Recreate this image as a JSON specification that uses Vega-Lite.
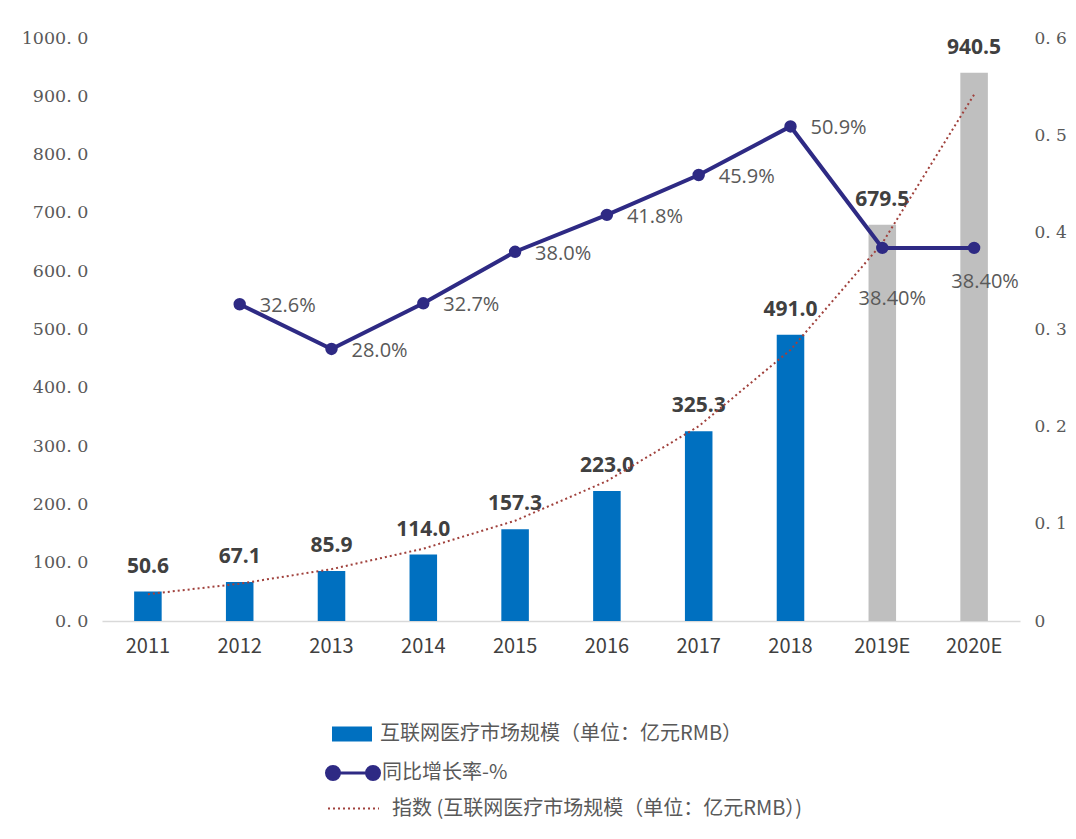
{
  "$schema": "https://vega.github.io/schema/vega-lite/v6.json",
  "width": 918,
  "height": 583,
  "autosize": {"type": "none"},
  "padding": {"left": 102, "top": 38, "right": 56, "bottom": 218},
  "background": "white",
  "config": {
    "view": {"stroke": null},
    "legend": {"labelFontSize": 20, "labelColor": "#595959", "labelFont": "Noto Sans CJK SC", "padding": 0, "labelLimit": 700},
    "axis": {"grid": false, "ticks": false}
  },
  "data": {
    "values": [
      {"year": "2011", "size": 50.6, "type": "互联网医疗市场规模（单位：亿元RMB）", "growth": null, "trend": 46},
      {"year": "2012", "size": 67.1, "type": "互联网医疗市场规模（单位：亿元RMB）", "growth": 0.326, "trend": 64},
      {"year": "2013", "size": 85.9, "type": "互联网医疗市场规模（单位：亿元RMB）", "growth": 0.280, "trend": 89},
      {"year": "2014", "size": 114.0, "type": "互联网医疗市场规模（单位：亿元RMB）", "growth": 0.327, "trend": 124},
      {"year": "2015", "size": 157.3, "type": "互联网医疗市场规模（单位：亿元RMB）", "growth": 0.380, "trend": 172},
      {"year": "2016", "size": 223.0, "type": "互联网医疗市场规模（单位：亿元RMB）", "growth": 0.418, "trend": 240},
      {"year": "2017", "size": 325.3, "type": "互联网医疗市场规模（单位：亿元RMB）", "growth": 0.459, "trend": 334},
      {"year": "2018", "size": 491.0, "type": "互联网医疗市场规模（单位：亿元RMB）", "growth": 0.509, "trend": 465},
      {"year": "2019E", "size": 679.5, "type": "预测", "growth": 0.384, "trend": 648},
      {"year": "2020E", "size": 940.5, "type": "预测", "growth": 0.384, "trend": 903}
    ]
  },
  "encoding": {
    "x": {
      "field": "year", "type": "nominal", "sort": null,
      "scale": {"paddingInner": 0.7, "paddingOuter": 0.35},
      "axis": {"title": null, "labelAngle": 0, "labelFontSize": 20, "labelFont": "Noto Sans CJK SC", "labelColor": "#404040", "labelPadding": 15, "domainColor": "#d9d9d9", "domainWidth": 1.5}
    }
  },
  "layer": [
    {
      "encoding": {
        "y": {
          "type": "quantitative",
          "scale": {"domain": [0, 1000], "nice": false},
          "axis": {"title": null, "values": [0,100,200,300,400,500,600,700,800,900,1000], "labelExpr": "replace(format(datum.value,'.1f'),'.','. ')", "labelFont": "DejaVu Serif", "labelFontSize": 17.5, "labelColor": "#595959", "labelPadding": 14, "domain": false}
        }
      },
      "layer": [
        {
          "mark": {"type": "bar"},
          "encoding": {
            "y": {"field": "size", "type": "quantitative"},
            "color": {
              "field": "type", "type": "nominal",
              "scale": {"domain": ["互联网医疗市场规模（单位：亿元RMB）", "预测"], "range": ["#0070C0", "#BFBFBF"]},
              "legend": {"orient": "none", "legendX": 230, "legendY": 676, "title": null, "values": ["互联网医疗市场规模（单位：亿元RMB）"], "symbolType": "M-1,-0.375H1V0.375H-1Z", "symbolSize": 1600, "symbolStrokeWidth": 0, "labelOffset": 8}
            }
          }
        },
        {
          "mark": {"type": "text", "fontSize": 21, "fontWeight": "bold", "font": "Open Sans", "color": "#404040", "baseline": "alphabetic", "dy": -19},
          "encoding": {
            "y": {"field": "size", "type": "quantitative"},
            "text": {"field": "size", "type": "quantitative", "format": ".1f"}
          }
        },
        {
          "mark": {"type": "line", "color": "#A0413C", "strokeWidth": 2},
          "encoding": {
            "y": {"field": "trend", "type": "quantitative"},
            "strokeDash": {
              "datum": "指数 (互联网医疗市场规模（单位：亿元RMB）)",
              "scale": {"range": [[2, 3]]},
              "legend": {"orient": "none", "legendX": 225, "legendY": 744, "title": null, "symbolType": "stroke", "symbolSize": 2601, "symbolStrokeColor": "#A0413C", "symbolStrokeWidth": 2, "labelOffset": 12}
            }
          }
        }
      ]
    },
    {
      "transform": [{"filter": "datum.growth != null"}],
      "encoding": {
        "y": {
          "type": "quantitative",
          "scale": {"domain": [0, 0.6], "nice": false},
          "axis": {"title": null, "orient": "right", "values": [0, 0.1, 0.2, 0.3, 0.4, 0.5, 0.6], "labelExpr": "datum.value == 0 ? '0' : replace(format(datum.value,'.1f'),'.','. ')", "labelFont": "DejaVu Serif", "labelFontSize": 17, "labelColor": "#595959", "labelPadding": 14, "domain": false}
        }
      },
      "layer": [
        {
          "mark": {"type": "line", "strokeWidth": 4},
          "encoding": {
            "y": {"field": "growth", "type": "quantitative"},
            "stroke": {
              "datum": "同比增长率-%",
              "scale": {"range": ["#2E2A84"]},
              "legend": {"orient": "none", "legendX": 223, "legendY": 707, "title": null, "symbolType": "M-0.755,0H0.755M-1,0A0.245,0.245 0 1,0 -0.51,0A0.245,0.245 0 1,0 -1,0ZM0.51,0A0.245,0.245 0 1,0 1,0A0.245,0.245 0 1,0 0.51,0Z", "symbolSize": 2809, "symbolStrokeWidth": 3, "labelOffset": 1, "symbolFillColor": "#2E2A84",
                "encode": {"symbols": {"update": {"fill": {"value": "#2E2A84"}, "stroke": {"value": "#2E2A84"}}}}}
            }
          }
        },
        {
          "mark": {"type": "circle", "size": 154, "color": "#2E2A84", "opacity": 1},
          "encoding": {"y": {"field": "growth", "type": "quantitative"}}
        },
        {
          "transform": [{"filter": "datum.type != '预测'"}],
          "mark": {"type": "text", "align": "left", "baseline": "middle", "dx": 20, "dy": 2, "fontSize": 20, "font": "Open Sans", "color": "#595959"},
          "encoding": {
            "y": {"field": "growth", "type": "quantitative"},
            "text": {"field": "growth", "type": "quantitative", "format": ".1%"}
          }
        },
        {
          "transform": [{"filter": "datum.year == '2019E'"}],
          "mark": {"type": "text", "align": "center", "baseline": "middle", "dx": 10, "dy": 51, "fontSize": 20, "font": "Open Sans", "color": "#595959"},
          "encoding": {
            "y": {"field": "growth", "type": "quantitative"},
            "text": {"field": "growth", "type": "quantitative", "format": ".2%"}
          }
        },
        {
          "transform": [{"filter": "datum.year == '2020E'"}],
          "mark": {"type": "text", "align": "center", "baseline": "middle", "dx": 11, "dy": 34, "fontSize": 20, "font": "Open Sans", "color": "#595959"},
          "encoding": {
            "y": {"field": "growth", "type": "quantitative"},
            "text": {"field": "growth", "type": "quantitative", "format": ".2%"}
          }
        }
      ]
    }
  ],
  "resolve": {"scale": {"y": "independent"}}
}
